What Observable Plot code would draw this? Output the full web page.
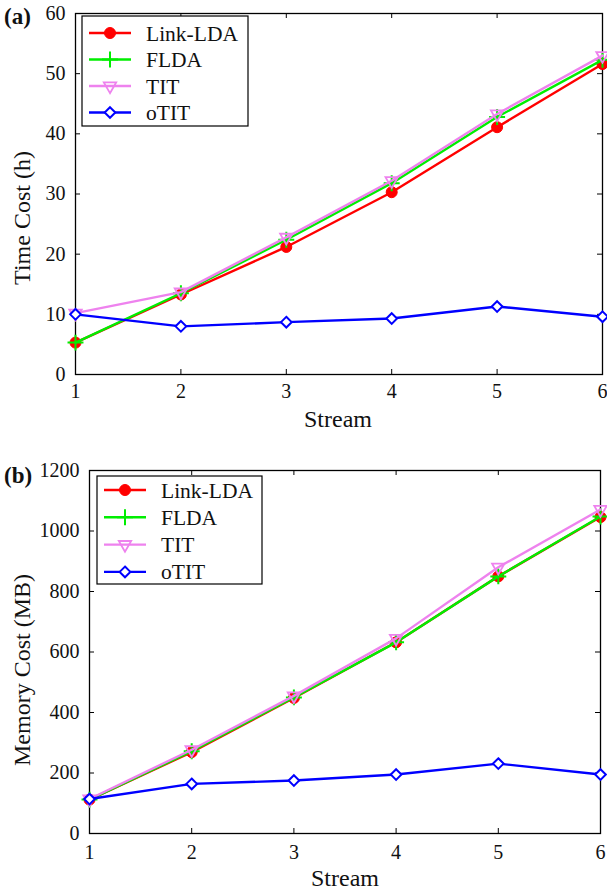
<!DOCTYPE html>
<html>
<head>
<meta charset="utf-8">
<script src="https://cdn.jsdelivr.net/npm/d3@7"></script>
<script src="https://cdn.jsdelivr.net/npm/@observablehq/plot@0.6"></script>
<style>
  html, body { margin: 0; padding: 0; background: #fff; }
  #chart { width: 607px; }
  #chart svg { display: block; }
  #chart svg, #chart svg text { font-family: "Liberation Serif", "DejaVu Serif", serif !important; }
</style>
</head>
<body>
<div id="chart"></div>
<script>
// ---- data ----
const streams = [1, 2, 3, 4, 5, 6];
const seriesNames = ["Link-LDA", "FLDA", "TIT", "oTIT"];
const seriesColors = ["#ff0000", "#00ee00", "#ee82ee", "#0000ff"];

// Panel (a): time cost (h)
const timeLinkLDA = [5.3, 13.3, 21.2, 30.3, 41.1, 51.6];
const timeFLDA    = [5.3, 13.5, 22.4, 31.8, 42.8, 52.3];
const timeTIT     = [10.2, 13.7, 22.8, 32.2, 43.3, 53.0];
const timeOTIT    = [10.0, 8.0, 8.7, 9.3, 11.3, 9.6];

// Panel (b): memory cost (MB)
const memLinkLDA = [112, 269, 448, 632, 850, 1046];
const memFLDA    = [112, 272, 450, 632, 850, 1048];
const memTIT     = [114, 277, 455, 645, 880, 1071];
const memOTIT    = [114, 164, 175, 195, 231, 195];

const xTicks = [1, 2, 3, 4, 5, 6];
const timeTicks = [0, 10, 20, 30, 40, 50, 60];
const memTicks = [0, 200, 400, 600, 800, 1000, 1200];

// ---- styling ----
const FONT = "Liberation Serif, DejaVu Serif, serif";
const symbols = {
  "Link-LDA": {symbol: "circle", r: 5.5, fill: "#ff0000", stroke: "#ff0000", sw: 1, rotate: 0},
  "FLDA": {symbol: "plus", r: 5.2, fill: "none", stroke: "#00ee00", sw: 2, rotate: 0},
  "TIT": {symbol: "triangle", r: 4.6, fill: "none", stroke: "#ee82ee", sw: 1.8, rotate: 180},
  "oTIT": {symbol: "diamond2", r: 4.8, fill: "white", stroke: "#0000ff", sw: 2, rotate: 0}
};
const d3Sym = {circle: d3.symbolCircle, plus: d3.symbolPlus, triangle: d3.symbolTriangle, diamond2: d3.symbolDiamond2};

function makePanel(cfg) {
  const rows = [];
  cfg.series.forEach((vals, i) => {
    vals.forEach((v, j) => rows.push({stream: streams[j], value: v, series: seriesNames[i]}));
  });
  const pw = cfg.width - cfg.marginLeft - cfg.marginRight;
  const ph = cfg.height - cfg.marginTop - cfg.marginBottom;
  const marks = [
    Plot.frame({stroke: "black", strokeWidth: 1.3}),
    Plot.tickX(xTicks, {x: d => d, insetTop: ph - 5, stroke: "black", strokeWidth: 1}),
    Plot.tickX(xTicks, {x: d => d, insetBottom: ph - 5, stroke: "black", strokeWidth: 1}),
    Plot.tickY(cfg.yTicks, {y: d => d, insetRight: pw - 5, stroke: "black", strokeWidth: 1}),
    Plot.tickY(cfg.yTicks, {y: d => d, insetLeft: pw - 5, stroke: "black", strokeWidth: 1}),
    Plot.axisX(xTicks, {tickSize: 0, tickPadding: cfg.xPad, fontSize: 20, label: null, fill: "#111", tickFormat: d3.format("d")}),
    Plot.axisY(cfg.yTicks, {tickSize: 0, tickPadding: 10, fontSize: 20, label: null, fill: "#111", tickFormat: d3.format("d")}),
  ];
  seriesNames.forEach((name, i) => {
    const data = rows.filter(r => r.series === name);
    const s = symbols[name];
    marks.push(Plot.line(data, {x: "stream", y: "value", stroke: seriesColors[i], strokeWidth: 2.4}));
    marks.push(Plot.dot(data, {x: "stream", y: "value", symbol: s.symbol, r: s.r, fill: s.fill,
      stroke: s.stroke, strokeWidth: s.sw, rotate: s.rotate}));
  });

  const svg = Plot.plot({
    width: cfg.width, height: cfg.height,
    marginLeft: cfg.marginLeft, marginRight: cfg.marginRight,
    marginTop: cfg.marginTop, marginBottom: cfg.marginBottom,
    style: {fontFamily: FONT, background: "white", overflow: "visible"},
    x: {domain: [1, 6]},
    y: {domain: cfg.yDomain},
    marks
  });

  const sel = d3.select(svg);
  // axis titles
  sel.append("text").attr("x", cfg.xLabelX).attr("y", cfg.xLabelY)
    .attr("text-anchor", "middle").attr("dy", "0.35em")
    .attr("font-size", 24).attr("fill", "#111").text(cfg.xLabel);
  sel.append("text").attr("transform", `translate(${cfg.yLabelX},${cfg.yLabelY}) rotate(-90)`)
    .attr("text-anchor", "middle").attr("dy", "0.35em")
    .attr("font-size", 24).attr("fill", "#111").text(cfg.yLabel);
  // panel tag
  sel.append("text").attr("x", cfg.tagX).attr("y", cfg.tagY)
    .attr("text-anchor", "start")
    .attr("font-size", 23).attr("font-weight", "bold")
    .attr("fill", "#111").text(cfg.tag);

  // legend
  const L = cfg.legend;
  const g = sel.append("g");
  g.append("rect").attr("x", L.x).attr("y", L.y).attr("width", L.w).attr("height", L.h)
    .attr("fill", "white").attr("stroke", "black").attr("stroke-width", 1.2);
  seriesNames.forEach((name, i) => {
    const yy = L.y + L.first + i * L.step;
    const s = symbols[name];
    g.append("line").attr("x1", L.lineX1).attr("x2", L.lineX2).attr("y1", yy).attr("y2", yy)
      .attr("stroke", seriesColors[i]).attr("stroke-width", 2.4);
    const cx = (L.lineX1 + L.lineX2) / 2;
    g.append("path").attr("d", d3.symbol(d3Sym[s.symbol], Math.PI * s.r * s.r)())
      .attr("transform", `translate(${cx},${yy}) rotate(${s.rotate})`)
      .attr("fill", s.fill).attr("stroke", s.stroke).attr("stroke-width", s.sw);
    g.append("text").attr("x", L.textX).attr("y", yy).attr("dy", "0.35em")
      .attr("text-anchor", "start")
      .attr("font-size", 21.5).attr("fill", "#111").text(name);
  });
  return svg;
}

const chart = document.getElementById("chart");
chart.append(makePanel({
  width: 607, height: 445,
  marginLeft: 75, marginRight: 5, marginTop: 13, marginBottom: 71,
  series: [timeLinkLDA, timeFLDA, timeTIT, timeOTIT],
  yDomain: [0, 60], yTicks: timeTicks,
  xPad: 9, xLabel: "Stream", xLabelX: 338, xLabelY: 419,
  yLabel: "Time Cost (h)", yLabelX: 22, yLabelY: 218,
  tag: "(a)", tagX: 4, tagY: 24,
  legend: {x: 82, y: 16, w: 166, h: 110, first: 17, step: 26.5, lineX1: 89, lineX2: 131, textX: 146}
}));
chart.append(makePanel({
  width: 607, height: 445,
  marginLeft: 89, marginRight: 7, marginTop: 25, marginBottom: 57,
  series: [memLinkLDA, memFLDA, memTIT, memOTIT],
  yDomain: [0, 1200], yTicks: memTicks,
  xPad: 11, xLabel: "Stream", xLabelX: 345, xLabelY: 433,
  yLabel: "Memory Cost (MB)", yLabelX: 22, yLabelY: 225,
  tag: "(b)", tagX: 4, tagY: 38,
  legend: {x: 97, y: 31, w: 165, h: 108, first: 14, step: 27.3, lineX1: 104, lineX2: 146, textX: 161}
}));
</script>
</body>
</html>
